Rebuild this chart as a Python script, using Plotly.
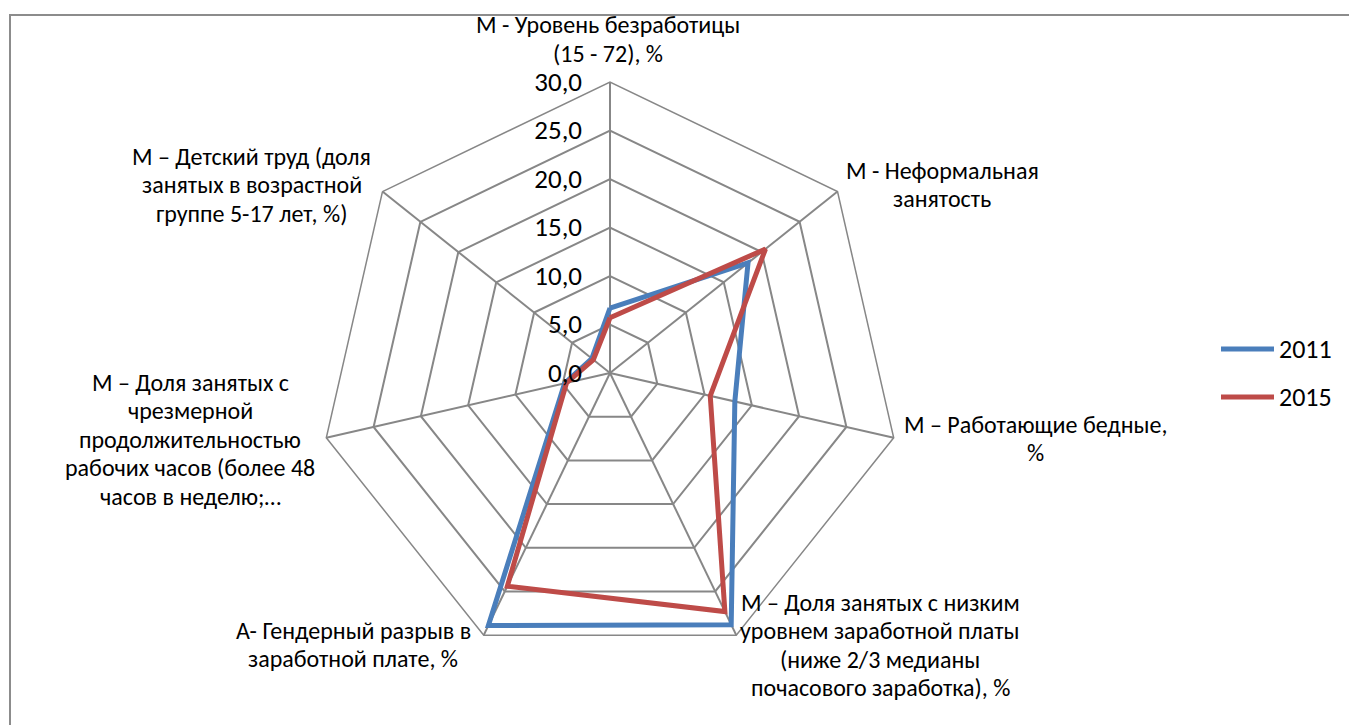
import plotly.graph_objects as go

W, H = 1349, 725

categories = [
    "M - Уровень безработицы (15 - 72), %",
    "M - Неформальная занятость",
    "M – Работающие бедные, %",
    "M – Доля занятых с низким уровнем заработной платы (ниже 2/3 медианы почасового заработка), %",
    "А- Гендерный разрыв в заработной плате, %",
    "M – Доля занятых с чрезмерной продолжительностью рабочих часов (более 48 часов в неделю;...",
    "M – Детский труд (доля занятых в возрастной группе 5-17 лет, %)",
]
values_2011 = [6.7, 18.2, 13.2, 28.8, 28.9, 4.8, 2.4]
values_2015 = [5.7, 20.5, 10.6, 27.3, 24.4, 4.6, 2.2]

# wrapped label lines and their centre positions (px)
label_lines = [
    ["M - Уровень безработицы", "(15 - 72), %"],
    ["M - Неформальная", "занятость"],
    ["M – Работающие бедные,", "%"],
    ["M – Доля занятых с низким", "уровнем заработной платы", "(ниже 2/3 медианы", "почасового заработка), %"],
    ["А- Гендерный разрыв в", "заработной плате, %"],
    ["M – Доля занятых с", "чрезмерной", "продолжительностью", "рабочих часов (более 48", "часов в неделю;…"],
    ["M – Детский труд (доля", "занятых в возрастной", "группе 5-17 лет, %)"],
]
label_pos = [(608, 25), (942, 170), (1035, 424), (880, 602), (353, 630), (190, 382), (252, 156)]
LINE_GAP = 28.5

FONT = "Carlito, Lato, sans-serif"
GRID = "#878787"
BLUE = "#4A7EBB"
RED = "#BE4B48"

fig = go.Figure()
for name, vals, col in [("2011", values_2011, BLUE), ("2015", values_2015, RED)]:
    fig.add_trace(go.Scatterpolar(
        r=vals + vals[:1], theta=categories + categories[:1],
        mode="lines", name=name,
        line=dict(color=col, width=5),
        showlegend=False,
    ))

# polar area: centre (610, 373), outer radius 291 px
cx, cy, R = 610, 373, 291
fig.update_layout(
    width=W, height=H,
    margin=dict(l=0, r=0, t=0, b=0),
    paper_bgcolor="white",
    separators=", ",
    font=dict(family=FONT, color="black"),
    polar=dict(
        domain=dict(x=[(cx - R) / W, (cx + R) / W], y=[1 - (cy + R) / H, 1 - (cy - R) / H]),
        gridshape="linear",
        bgcolor="white",
        angularaxis=dict(
            rotation=90, direction="clockwise",
            showticklabels=False, ticks="",
            showline=True, linecolor=GRID, linewidth=1.5,
            showgrid=True, gridcolor=GRID, gridwidth=1.5,
        ),
        radialaxis=dict(
            range=[0, 30], tick0=0, dtick=5, tickformat=".1f",
            angle=90, tickangle=90, side="counterclockwise",
            showline=False,
            ticks="outside", ticklen=18, tickcolor="rgba(0,0,0,0)",
            showgrid=True, gridcolor=GRID, gridwidth=1.5,
            tickfont=dict(size=27, family=FONT, color="black"),
        ),
    ),
)

annotations = []
for lines, (x, y) in zip(label_lines, label_pos):
    for i, line in enumerate(lines):
        annotations.append(dict(
            x=x / W, y=1 - (y + i * LINE_GAP) / H, xref="paper", yref="paper",
            text=line, showarrow=False, xanchor="center", yanchor="middle",
            font=dict(size=24, family=FONT, color="black"),
        ))

# legend
shapes = []
for name, col, y in [("2011", BLUE, 349), ("2015", RED, 397)]:
    shapes.append(dict(type="line", xref="paper", yref="paper",
                       x0=1221 / W, x1=1274 / W, y0=1 - y / H, y1=1 - y / H,
                       line=dict(color=col, width=5)))
    annotations.append(dict(x=1277 / W, y=1 - y / H, xref="paper", yref="paper",
                            text=name, showarrow=False, xanchor="left", yanchor="middle",
                            font=dict(size=26, family=FONT, color="black")))

# chart area border
shapes.append(dict(type="rect", xref="paper", yref="paper",
                   x0=10 / W, x1=1.05, y0=-0.05, y1=1 - 15 / H,
                   line=dict(color="#8C8C8C", width=2)))

fig.update_layout(annotations=annotations, shapes=shapes)
fig.write_html("out.html")
